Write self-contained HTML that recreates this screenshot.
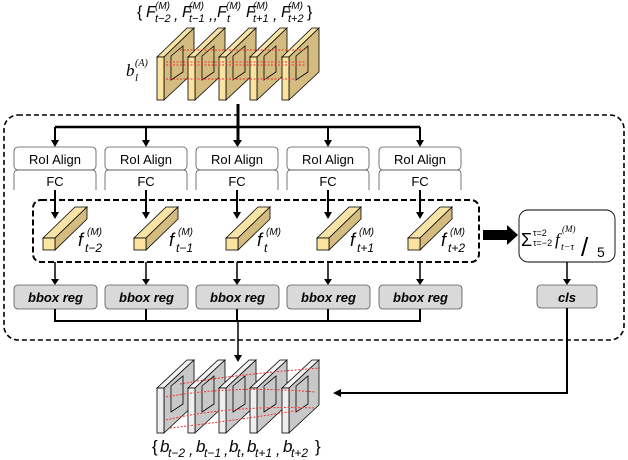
<!DOCTYPE html>
<html><head><meta charset="utf-8"><style>
body{margin:0;background:#fff}
svg{display:block}
text{font-family:"Liberation Sans",sans-serif}
.m{font-family:"Liberation Serif",serif;font-style:italic}
</style></head><body>
<svg width="628" height="460" viewBox="0 0 628 460" xmlns="http://www.w3.org/2000/svg">
<defs>
<g id="slabY">
<path d="M0,57 L30,28 L37,28 L7,57Z" fill="#f7e3a6" stroke="#000" stroke-width="0.8"/>
<path d="M7,57 L37,28 L37,72 L7,100Z" fill="#d4bc80" stroke="#000" stroke-width="0.8"/>
<rect x="0" y="57" width="7" height="43" fill="#fbe4a0" stroke="#000" stroke-width="0.8"/>
<path d="M14,56 L26,46 L26,72 L14,80Z" fill="none" stroke="#000" stroke-width="0.8"/>
</g>
<g id="slabG">
<path d="M0,388 L30,360 L37,360 L7,388Z" fill="#f2f2f2" stroke="#000" stroke-width="0.8"/>
<path d="M7,388 L37,360 L37,405 L7,433Z" fill="#c8c8c8" stroke="#000" stroke-width="0.8"/>
<rect x="0" y="388" width="7" height="45" fill="#efefef" stroke="#000" stroke-width="0.8"/>
<path d="M14,386 L26,376 L26,404 L14,412Z" fill="none" stroke="#000" stroke-width="0.8"/>
</g>
<g id="bar">
<path d="M0,0 L32,-31 L44,-31 L12,0Z" fill="#f7e3a6" stroke="#000" stroke-width="0.8"/>
<path d="M12,0 L44,-31 L44,-19 L12,12Z" fill="#d4bc80" stroke="#000" stroke-width="0.8"/>
<rect x="0" y="0" width="12" height="12" fill="#fbe4a0" stroke="#000" stroke-width="0.8"/>
</g>
</defs>

<!-- top label -->
<g class="m">
<text x="137" y="17" font-size="16" style="font-style:normal">{</text>
<text x="146" y="17" font-size="16">F</text><text x="155" y="22" font-size="11">t−2</text><text x="155" y="9" font-size="10">(M)</text><text x="174" y="20" font-size="16">,</text>
<text x="182" y="17" font-size="16">F</text><text x="189" y="22" font-size="11">t−1</text><text x="189" y="9" font-size="10">(M)</text><text x="209" y="20" font-size="16">,,</text>
<text x="217" y="17" font-size="16">F</text><text x="227" y="22" font-size="11">t</text><text x="226" y="9" font-size="10">(M)</text>
<text x="246" y="17" font-size="16">F</text><text x="253" y="22" font-size="11">t+1</text><text x="253" y="9" font-size="10">(M)</text><text x="273" y="20" font-size="16">,</text>
<text x="281" y="17" font-size="16">F</text><text x="288" y="22" font-size="11">t+2</text><text x="288" y="9" font-size="10">(M)</text>
<text x="307" y="17" font-size="16" style="font-style:normal">}</text>
</g>
<use href="#slabY" x="157"/><use href="#slabY" x="188"/><use href="#slabY" x="219"/><use href="#slabY" x="250"/><use href="#slabY" x="282"/>
<g stroke="#e33" stroke-width="1" stroke-dasharray="2,1.5"><line x1="180" y1="50" x2="305" y2="50"/><line x1="166" y1="62" x2="305" y2="62"/><line x1="166" y1="65" x2="305" y2="65"/><line x1="166" y1="79" x2="295" y2="79"/></g>
<text x="126" y="76" class="m" font-size="17">b</text><text x="135" y="81" class="m" font-size="11">l</text>
<text x="135" y="66" class="m" font-size="10">(A)</text>

<!-- outer dashed -->
<rect x="4" y="115" width="620" height="225" rx="14" fill="none" stroke="#000" stroke-width="1.6" stroke-dasharray="5,3"/>
<line x1="238" y1="104" x2="238" y2="140" stroke="#000" stroke-width="3"/>
<line x1="55" y1="127" x2="420" y2="127" stroke="#000" stroke-width="2.5"/>
<g stroke="#000" stroke-width="2">
<line x1="55" y1="127" x2="55" y2="141"/><line x1="146" y1="127" x2="146" y2="141"/><line x1="328" y1="127" x2="328" y2="141"/><line x1="420" y1="127" x2="420" y2="141"/>
</g>
<g fill="#000"><path d="M51,140h8l-4,7z"/><path d="M142,140h8l-4,7z"/><path d="M233,140h9l-4.5,7z"/><path d="M324,140h8l-4,7z"/><path d="M416,140h8l-4,7z"/></g>

<g font-size="13" text-anchor="middle" fill="#000">
<g id="col">
<rect x="14" y="147" width="82" height="23" rx="4" fill="#fff" stroke="#555" stroke-width="0.8"/>
<path d="M14,190 V174 Q14,170 18,170 H92 Q96,170 96,174 V190" fill="none" stroke="#555" stroke-width="0.8"/>
<text x="55" y="164">RoI Align</text><text x="55" y="186">FC</text>
<line x1="55" y1="190" x2="55" y2="213" stroke="#000" stroke-width="2"/><path d="M51,212h8l-4,7z"/>
<line x1="55" y1="262" x2="55" y2="280" stroke="#000" stroke-width="1.5"/><path d="M51,279h8l-4,6z"/>
<rect x="14" y="285" width="83" height="24" rx="4" fill="#d9d9d9" stroke="#555" stroke-width="0.8"/>
<text x="55.5" y="302" font-weight="bold" font-style="italic">bbox reg</text>
<line x1="55" y1="309" x2="55" y2="322" stroke="#000" stroke-width="2"/>
</g>
<use href="#col" x="91"/><use href="#col" x="182"/><use href="#col" x="273"/><use href="#col" x="365"/>
</g>

<!-- inner dashed -->
<rect x="33" y="200" width="446" height="62" rx="8" fill="none" stroke="#000" stroke-width="2" stroke-dasharray="6,3"/>
<use href="#bar" x="43" y="238"/><use href="#bar" x="134" y="238"/><use href="#bar" x="226" y="238"/><use href="#bar" x="317" y="238"/><use href="#bar" x="408" y="238"/>
<g class="m">
<text x="78" y="246" font-size="18">f</text><text x="85" y="252" font-size="12">t−2</text><text x="87" y="235" font-size="10">(M)</text>
<text x="169" y="246" font-size="18">f</text><text x="176" y="252" font-size="12">t−1</text><text x="178" y="235" font-size="10">(M)</text>
<text x="257" y="246" font-size="18">f</text><text x="264" y="252" font-size="12">t</text><text x="266" y="235" font-size="10">(M)</text>
<text x="350" y="246" font-size="18">f</text><text x="357" y="252" font-size="12">t+1</text><text x="359" y="235" font-size="10">(M)</text>
<text x="441" y="246" font-size="18">f</text><text x="448" y="252" font-size="12">t+2</text><text x="450" y="235" font-size="10">(M)</text>
</g>

<line x1="55" y1="321" x2="420" y2="321" stroke="#000" stroke-width="2"/>
<line x1="238" y1="321" x2="238" y2="356" stroke="#000" stroke-width="1.5"/><path d="M234,355h8l-4,7z"/>

<!-- big arrow -->
<path d="M483,230 H507 V225 L518,235 L507,245 V240 H483Z" fill="#000"/>
<rect x="519" y="210" width="96" height="52" rx="9" fill="#fff" stroke="#000" stroke-width="0.9"/>
<text x="521" y="246" font-family="Liberation Serif" font-size="18">Σ</text>
<text x="533" y="236" font-family="Liberation Serif" font-size="9">τ=2</text>
<text x="533" y="246" font-family="Liberation Serif" font-size="9">τ=−2</text>
<text x="555" y="245" class="m" font-size="17">f</text>
<text x="561" y="250" class="m" font-size="10">t−τ</text>
<text x="562" y="232" class="m" font-size="9">(M)</text>
<text x="581" y="256" font-family="Liberation Serif" font-size="26">/</text>
<text x="597" y="257" font-family="Liberation Serif" font-size="14">5</text>
<line x1="567" y1="262" x2="567" y2="280" stroke="#000" stroke-width="1.5"/><path d="M563,279h8l-4,6z"/>
<rect x="537" y="285" width="60" height="23" rx="4" fill="#d9d9d9" stroke="#555" stroke-width="0.8"/>
<text x="567" y="302" font-size="13" font-weight="bold" font-style="italic" text-anchor="middle">cls</text>
<path d="M567,308 V393 H340" fill="none" stroke="#000" stroke-width="2"/><path d="M341,389v8l-8,-4z"/>

<!-- bottom maps -->
<use href="#slabG" x="157"/><use href="#slabG" x="188"/><use href="#slabG" x="219"/><use href="#slabG" x="250"/><use href="#slabG" x="282"/>
<g stroke="#e33" stroke-width="1" stroke-dasharray="2,1.5" fill="none">
<path d="M180,384 Q230,375 320,368"/><path d="M166,397 Q230,385 315,392"/><path d="M166,420 Q230,405 315,408"/><path d="M170,428 Q240,420 300,410"/>
</g>
<g class="m">
<text x="152" y="452" font-size="17" style="font-style:normal">{</text>
<text x="160" y="452" font-size="17">b</text><text x="168" y="457" font-size="12">t−2</text><text x="189" y="455" font-size="16">,</text>
<text x="196" y="452" font-size="17">b</text><text x="204" y="457" font-size="12">t−1</text><text x="224" y="455" font-size="16">,</text>
<text x="229" y="452" font-size="17">b</text><text x="237" y="457" font-size="12">t</text><text x="241" y="455" font-size="16">,</text>
<text x="247" y="452" font-size="17">b</text><text x="255" y="457" font-size="12">t+1</text><text x="276" y="455" font-size="16">,</text>
<text x="283" y="452" font-size="17">b</text><text x="291" y="457" font-size="12">t+2</text>
<text x="315" y="452" font-size="17" style="font-style:normal">}</text>
</g>
</svg>
</body></html>
